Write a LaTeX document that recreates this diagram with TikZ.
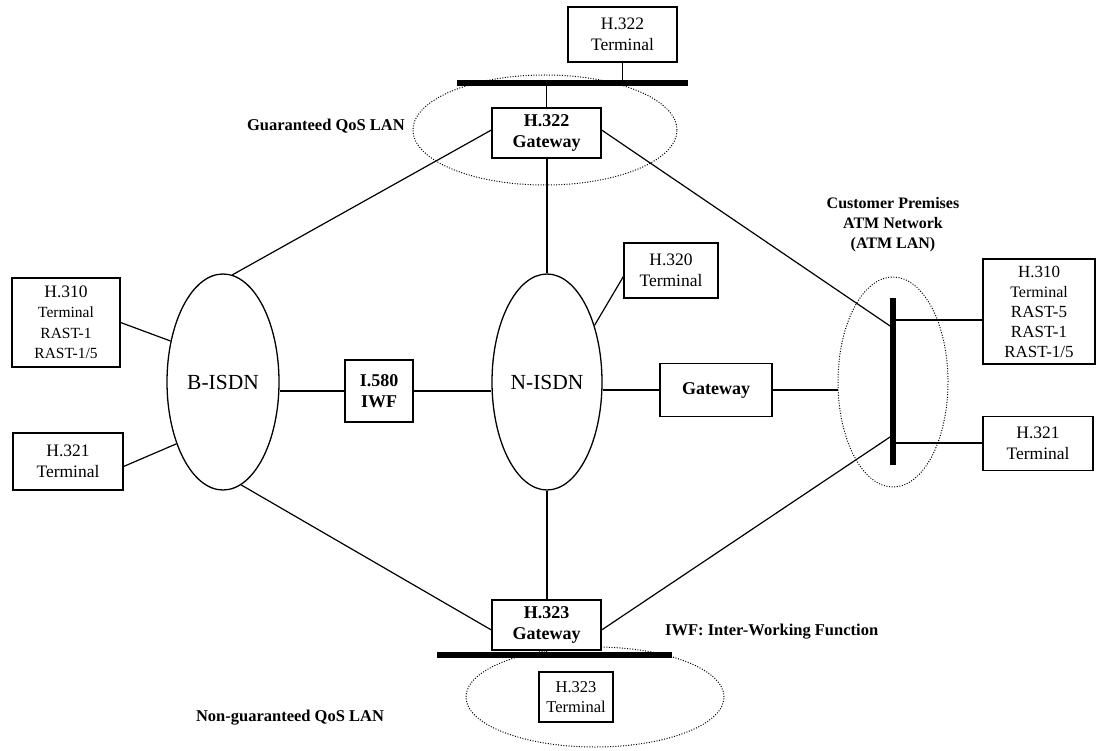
\documentclass[tikz,border=0pt]{standalone}
\usepackage{fontspec}
\setmainfont{Liberation Serif}
\usetikzlibrary{shapes.geometric,calc}
\begin{document}
\begin{tikzpicture}[x=1pt,y=-1pt,
  box/.style={draw, line width=1.2pt, rectangle, inner sep=0pt, fill=white, align=center, font=\fontsize{17.5}{21}\selectfont},
  gbox/.style={box, font=\bfseries\fontsize{18}{21}\selectfont},
  net/.style={draw, line width=1.3pt, ellipse, inner sep=0pt, font=\fontsize{21.5}{24}\selectfont},
  lan/.style={draw, line width=1pt, dash pattern=on 1pt off 1.6pt, ellipse, inner sep=0pt},
  conn/.style={line width=1.2pt},
  bus/.style={line width=6pt},
  lbl/.style={font=\bfseries\fontsize{16.5}{20}\selectfont, align=center, inner sep=0pt}]
\useasboundingbox (0,0) rectangle (1097,751);
\fill[white] (0,0) rectangle (1097,751);

% LAN ellipses
\node[lan, minimum width=264pt, minimum height=110pt] (qlan) at (545,130) {};
\node[lan, minimum width=258pt, minimum height=100pt] (nlan) at (595,697) {};
\node[lan, minimum width=110pt, minimum height=210pt] (atm) at (893,382) {};

% buses
\coordinate (tbL) at (457,83);
\coordinate (tbR) at (688,83);
\coordinate (bbL) at (437,655);
\coordinate (bbR) at (672,655);
\coordinate (vbT) at (893,298);
\coordinate (vbB) at (893,465);
\draw[bus] (tbL) -- (tbR);
\draw[bus] (bbL) -- (bbR);
\draw[bus] (vbT) -- (vbB);
\coordinate (vb1) at (893,328);
\coordinate (vb2) at (893,435);
\coordinate (vb3) at (893,320);
\coordinate (vb4) at (893,443);

% networks
\node[net, minimum width=112pt, minimum height=216pt] (bisdn) at (223,382) {B-ISDN};
\node[net, minimum width=110pt, minimum height=216pt] (nisdn) at (547,382) {N-ISDN};

% boxes
\node[box, minimum width=109pt, minimum height=55pt] (t322) at (622.5,34.5) {H.322\\Terminal};
\node[gbox, minimum width=109pt, minimum height=50pt] (g322) at (546.5,133) {H.322\\Gateway};
\node[gbox, minimum width=109pt, minimum height=50pt] (g323) at (546.5,625) {H.323\\Gateway};
\node[box, minimum width=74pt, minimum height=50pt, font=\fontsize{16.5}{20}\selectfont] (t323) at (576,697) {H.323\\Terminal};
\node[box, minimum width=94pt, minimum height=55pt] (h320) at (671,270.5) {H.320\\Terminal};
\node[gbox, minimum width=68pt, minimum height=62pt] (iwf) at (379,391) {I.580\\IWF};
\node[gbox, minimum width=112pt, minimum height=53pt] (gw) at (716,390) {Gateway};
\node[box, minimum width=108pt, minimum height=89pt, font=\fontsize{15.5}{20.5}\selectfont] (h310l) at (66,322.5) {{\fontsize{17.5}{20}\selectfont H.310}\\Terminal\\RAST-1\\RAST-1/5};
\node[box, minimum width=110pt, minimum height=57pt] (h321l) at (68,461.5) {H.321\\Terminal};
\node[box, minimum width=112pt, minimum height=105pt, font=\fontsize{17}{20}\selectfont] (h310r) at (1039,311.5) {H.310\\{\fontsize{16}{20}\selectfont Terminal}\\RAST-5\\RAST-1\\RAST-1/5};
\node[box, minimum width=110pt, minimum height=54pt] (h321r) at (1038,443.5) {H.321\\Terminal};

% connectors
\draw[conn] (t322.south) -- (t322.south |- tbL);
\draw[conn] (g322.north) -- (g322.north |- tbL);
\draw[conn] (g323.south) -- (g323.south |- bbL);
\draw[conn] ($(t323.north)+(28,0)$) -- ($(t323.north)+(28,0)$ |- bbL);
\draw[conn] (bisdn.85) -- ($(g322.west)+(0,-3)$);
\draw[conn] (bisdn.-80) -- ($(g323.west)+(0,5)$);
\draw[conn] ($(g322.east)+(0,-3)$) -- (vb1);
\draw[conn] ($(g323.east)+(0,5)$) -- (vb2);
\draw[conn] (nisdn.north) -- (nisdn.north |- g322.south);
\draw[conn] (nisdn.south) -- (nisdn.south |- g323.north);
\draw[conn] (nisdn.50) -- ($(h320.west)+(0,6)$);
\draw[conn] (h310l.east) -- (bisdn.142);
\draw[conn] ($(h321l.east)+(0,5)$) -- (bisdn.233);
\draw[conn] (iwf.west) -- (iwf.west -| bisdn.east);
\draw[conn] (iwf.east) -- (iwf.east -| nisdn.west);
\draw[conn] (gw.west) -- (gw.west -| nisdn.east);
\draw[conn] (gw.east) -- (gw.east -| atm.west);
\draw[conn] (vb3) -- (vb3 -| h310r.west);
\draw[conn] (vb4) -- (vb4 -| h321r.west);

% labels
\node[lbl, anchor=east] (lq) at (405,126) {Guaranteed QoS LAN};
\node[lbl] (ln) at (290,718) {Non-guaranteed QoS LAN};
\node[lbl, anchor=west] (liwf) at (665,632) {IWF: Inter-Working Function};
\node[lbl, font=\bfseries\fontsize{16}{20}\selectfont] (lcp) at (893,225) {Customer Premises\\ATM Network\\(ATM LAN)};
\end{tikzpicture}
\end{document}
